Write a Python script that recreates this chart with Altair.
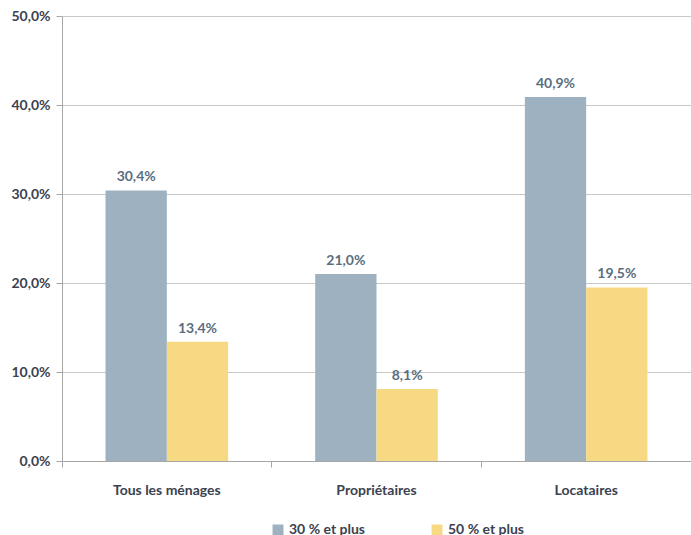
import altair as alt
import pandas as pd

categories = ["Tous les ménages", "Propriétaires", "Locataires"]
series = ["30 % et plus", "50 % et plus"]
v30 = [30.4, 21.0, 40.9]
v50 = [13.4, 8.1, 19.5]

rows = []
for c, a, b in zip(categories, v30, v50):
    rows.append({"cat": c, "serie": series[0], "val": a})
    rows.append({"cat": c, "serie": series[1], "val": b})
df = pd.DataFrame(rows)
df["lab"] = df["val"].map(lambda v: f"{v:.1f}%".replace(".", ","))

FONT = "Lato"
colors = ["#9DB1C0", "#F7D983"]

x = alt.X("cat:N", sort=categories, title=None,
          scale=alt.Scale(paddingInner=0, paddingOuter=0),
          axis=alt.Axis(labelAngle=0, labelFont=FONT, labelFontWeight="bold", labelFontSize=14,
                        labelColor="#3B4250", labelPadding=16, domainColor="#A6A6A6",
                        tickColor="#A6A6A6", tickSize=6, bandPosition=0, grid=False))
xo = alt.XOffset("serie:N", sort=series,
                 scale=alt.Scale(paddingOuter=0.71, paddingInner=0))
y = alt.Y("val:Q", title=None, scale=alt.Scale(domain=[0, 50]),
          axis=alt.Axis(values=[0, 10, 20, 30, 40, 50], labelExpr="replace(format(datum.value,'.1f'),'.',',')+'%'",
                        labelFont=FONT, labelFontWeight="bold", labelFontSize=14, labelColor="#3B4250",
                        labelPadding=6, domainColor="#A6A6A6", tickColor="#A6A6A6", tickSize=6,
                        gridColor="#C8C8C8", gridWidth=1))

bars = alt.Chart(df).mark_bar().encode(
    x=x, xOffset=xo, y=y,
    color=alt.Color("serie:N", sort=series, scale=alt.Scale(domain=series, range=colors),
                    legend=alt.Legend(title=None, orient="none", legendX=209, legendY=507,
                                      direction="horizontal", symbolType="square", symbolSize=120,
                                      symbolStrokeWidth=0, labelFont=FONT, labelFontWeight="bold",
                                      labelFontSize=14, labelColor="#3B4250", columnPadding=64,
                                      symbolOpacity=1)),
)

texts = alt.Chart(df).mark_text(font=FONT, fontWeight="bold", fontSize=14, color="#5A6E80",
                                baseline="bottom", dy=-6).encode(
    x=x, xOffset=xo, y=y, text="lab:N")

chart = alt.layer(bars, texts).properties(
    width=629, height=445,
    padding={"left": 62, "top": 16, "right": 0, "bottom": 74},
    autosize=alt.AutoSizeParams(type="none"),
).configure_view(stroke=None)

chart.save("out.html", embed_options={"renderer": "svg", "actions": False})
